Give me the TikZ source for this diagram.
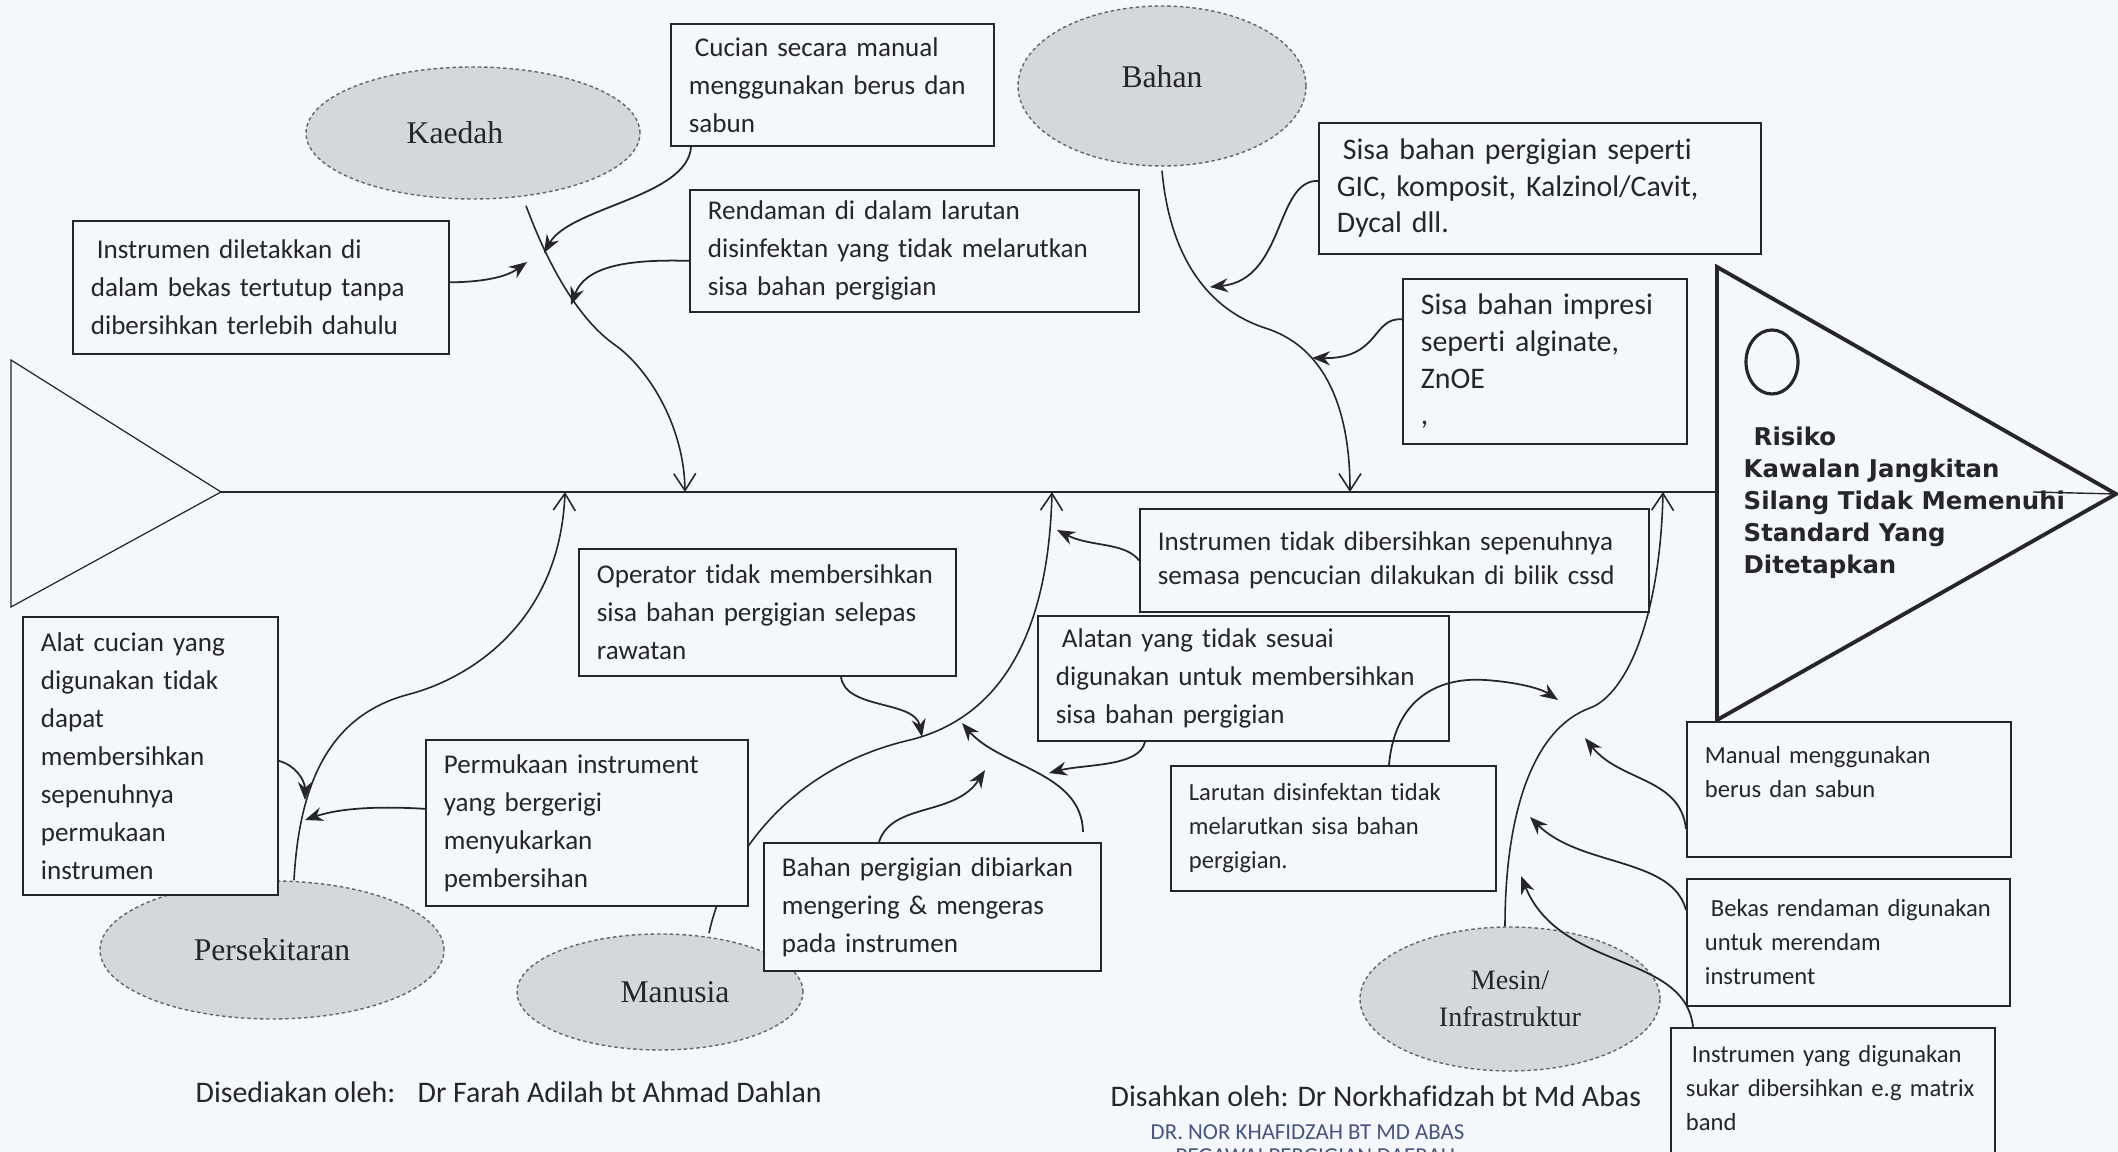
\documentclass[tikz,border=0pt]{standalone}
\usepackage{fontspec}
\setmainfont{Carlito}[Ligatures=NoCommon]
\newfontfamily\catfont{Liberation Serif}
\newfontfamily\effectfont{DejaVu Sans}
\usepackage{tikz}
\usetikzlibrary{arrows.meta,shapes.geometric,positioning}
\usepackage{xcolor}
\definecolor{fbpaper}{RGB}{244,247,251}
\definecolor{fbink}{RGB}{38,38,42}
\definecolor{fbgray}{RGB}{212,215,220}
\definecolor{fbstamp}{RGB}{72,84,128}
\tikzstyle{cause} = [rectangle, anchor=north west, draw=fbink, fill=fbpaper, line width=0.5pt, align=left, inner xsep=0.18cm, inner ysep=0pt, text=fbink, font=\fontsize{7.7}{10.8}\selectfont]
\tikzstyle{causesmall} = [cause, font=\fontsize{7}{9.7}\selectfont]
\tikzstyle{causelarge} = [cause, font=\fontsize{8.5}{10.4}\selectfont]
\tikzstyle{category} = [ellipse, draw=black!60, dash pattern=on 1pt off 0.8pt, line width=0.4pt, fill=fbgray, inner sep=0pt, align=center, text=fbink, font=\catfont\fontsize{9}{10.5}\selectfont]
\tikzstyle{bone} = [line width=0.45pt, color=fbink, -{Straight Barb[length=1.7mm,width=2.2mm]}]
\tikzstyle{feed} = [line width=0.5pt, color=fbink, -{Stealth[length=1.8mm,width=1.4mm]}]

\begin{document}
\begin{tikzpicture}
\useasboundingbox (0,0) rectangle (21.18,11.52);
\fill[fbpaper] (0,0) rectangle (21.18,11.52);

% Categories
\node (kaedah) [category, minimum width=3.34cm, minimum height=1.32cm] at (4.73,10.19) {\hspace*{-0.36cm}Kaedah};
\node (bahan) [category, minimum width=2.88cm, minimum height=1.60cm] at (11.62,10.66) {\raisebox{0.18cm}{Bahan}};
\node (persekitaran) [category, minimum width=3.44cm, minimum height=1.38cm] at (2.72,2.02) {Persekitaran};
\node (manusia) [category, minimum width=2.86cm, minimum height=1.16cm] at (6.60,1.60) {\hspace*{0.3cm}Manusia};
\node (mesin) [category, minimum width=3.00cm, minimum height=1.44cm, font=\catfont\fontsize{8}{10.5}\selectfont] at (15.10,1.53) {Mesin/\\Infrastruktur};

% Fish body
\coordinate (tailtop) at (0.11,7.92);
\coordinate (tailbot) at (0.11,5.45);
\coordinate (spinestart) at (2.21,6.60);
\coordinate (spineend) at (17.17,6.60);
\coordinate (headtop) at (17.17,8.85);
\coordinate (headbot) at (17.17,4.32);
\coordinate (headtip) at (21.16,6.58);
\coordinate (spinetip) at (20.33,6.60);
\draw[line width=0.35pt, color=fbink] (tailtop) -- (spinestart) -- (tailbot) -- cycle;
\draw[line width=0.6pt, color=fbink] (spinestart) -- (spineend);
\draw[line width=1.1pt, color=fbink] (headtop) -- (headtip) -- (headbot) -- cycle;
\draw[line width=0.4pt, color=fbink] (spinetip) -- (headtip);
\node (target) [draw=fbink, ellipse, line width=0.9pt, minimum width=0.52cm, minimum height=0.64cm, inner sep=0pt] at (17.72,7.90) {};
\node (effect) [anchor=north west, align=left, inner sep=0pt, text=fbink, font=\effectfont\bfseries\fontsize{6.95}{9.1}\selectfont] at (17.43,7.26) {\hspace*{0.1cm}Risiko\\Kawalan Jangkitan\\Silang Tidak Memenuhi\\Standard Yang\\Ditetapkan};

% Bones
\coordinate (kaedahtip) at (6.85,6.60);
\coordinate (bahantip) at (13.50,6.60);
\coordinate (persekitarantip) at (5.65,6.60);
\coordinate (manusiatip) at (10.52,6.60);
\coordinate (mesintip) at (16.63,6.60);
\draw[bone] ([xshift=0.53cm,yshift=-0.06cm]kaedah.south) .. controls (5.45,8.95) and (5.75,8.35) .. (6.15,8.07) .. controls (6.45,7.86) and (6.84,7.30) .. (kaedahtip);
\draw[bone] ([yshift=-0.04cm]bahan.south) .. controls (11.70,8.92) and (12.10,8.42) .. (12.65,8.24) .. controls (13.20,8.07) and (13.50,7.52) .. (bahantip);
\draw[bone] ([xshift=0.22cm]persekitaran.north) .. controls (3.00,3.85) and (3.40,4.40) .. (4.10,4.58) .. controls (4.70,4.74) and (5.60,5.30) .. (persekitarantip);
\draw[bone] ([xshift=0.49cm]manusia.north) .. controls (7.22,2.82) and (7.80,3.82) .. (9.10,4.12) .. controls (9.90,4.32) and (10.48,5.02) .. (manusiatip);
\draw[bone] ([xshift=-0.05cm]mesin.north) .. controls (15.05,3.32) and (15.30,4.22) .. (15.90,4.44) .. controls (16.25,4.57) and (16.60,5.30) .. (mesintip);

% Causes
\node (cucian) [cause, text width=2.87cm, minimum height=1.22cm] at (6.70,11.29) {\hspace*{0.06cm}Cucian secara manual\\menggunakan berus dan\\sabun};
\node (diletakkan) [cause, text width=3.40cm, minimum height=1.33cm] at (0.72,9.32) {\hspace*{0.06cm}Instrumen diletakkan di\\dalam bekas tertutup tanpa\\dibersihkan terlebih dahulu};
\node (rendaman) [cause, text width=4.13cm, minimum height=1.22cm] at (6.89,9.63) {Rendaman di dalam larutan\\disinfektan yang tidak melarutkan\\sisa bahan pergigian};
\node (sisapergigian) [causelarge, text width=4.06cm, minimum height=1.31cm] at (13.18,10.30) {\hspace*{0.06cm}Sisa bahan pergigian seperti\\GIC, komposit, Kalzinol/Cavit,\\Dycal dll.};
\node (impresi) [causelarge, text width=2.48cm, minimum height=1.65cm] at (14.02,8.74) {Sisa bahan impresi\\seperti alginate,\\ZnOE\\,};
\node (tidakbersih) [cause, text width=4.73cm, minimum height=1.03cm, font=\fontsize{7.7}{9.7}\selectfont] at (11.39,6.44) {Instrumen tidak dibersihkan sepenuhnya\\semasa pencucian dilakukan di bilik cssd};
\node (operator) [cause, text width=3.41cm, minimum height=1.27cm] at (5.78,6.04) {Operator tidak membersihkan\\sisa bahan pergigian selepas\\rawatan};
\node (alatan) [cause, text width=3.75cm, minimum height=1.25cm] at (10.37,5.37) {\hspace*{0.06cm}Alatan yang tidak sesuai\\digunakan untuk membersihkan\\sisa bahan pergigian};
\node (alatcucian) [cause, text width=2.19cm, minimum height=2.78cm] at (0.22,5.36) {Alat cucian yang\\digunakan tidak\\dapat\\membersihkan\\sepenuhnya\\permukaan\\instrumen};
\node (permukaan) [cause, text width=2.86cm, minimum height=1.66cm] at (4.25,4.13) {Permukaan instrument\\yang bergerigi\\menyukarkan\\pembersihan};
\node (bahankering) [cause, text width=3.01cm, minimum height=1.28cm] at (7.63,3.10) {Bahan pergigian dibiarkan\\mengering \& mengeras\\pada instrumen};
\node (larutan) [causesmall, text width=2.89cm, minimum height=1.25cm] at (11.70,3.87) {Larutan disinfektan tidak\\melarutkan sisa bahan\\pergigian.};
\node (manual) [causesmall, text width=2.88cm, minimum height=1.35cm] at (16.86,4.31) {Manual menggunakan\\berus dan sabun\\\mbox{}};
\node (bekas) [causesmall, text width=2.87cm, minimum height=1.27cm] at (16.86,2.74) {\hspace*{0.06cm}Bekas rendaman digunakan\\untuk merendam\\instrument};
\node (sukar) [causesmall, inner xsep=0.15cm, text width=2.94cm, minimum height=1.55cm] at (16.70,1.25) {\hspace*{0.06cm}Instrumen yang digunakan\\\mbox{sukar dibersihkan e.g matrix}\\band\\\mbox{}};

% Kaedah causes
\coordinate (kaedahA) at (5.44,8.99);
\coordinate (kaedahB) at (5.27,8.90);
\coordinate (kaedahC) at (5.71,8.47);
\draw[feed] ([xshift=0.21cm]cucian.south west) .. controls (6.88,9.55) and (5.70,9.45) .. (kaedahA);
\draw[feed] ([yshift=0.05cm]diletakkan.east) .. controls (4.80,8.70) and (5.05,8.74) .. (kaedahB);
\draw[feed] ([yshift=-0.10cm]rendaman.west) .. controls (6.25,8.93) and (5.85,8.85) .. (kaedahC);

% Bahan causes
\coordinate (bahanA) at (12.10,8.65);
\coordinate (bahanB) at (13.12,7.94);
\draw[feed] ([yshift=0.075cm]sisapergigian.west) .. controls (12.75,9.72) and (12.85,8.72) .. (bahanA);
\draw[feed] ([yshift=0.42cm]impresi.west) .. controls (13.72,8.35) and (13.80,7.93) .. (bahanB);

% Persekitaran causes
\coordinate (persekitaranA) at (3.05,3.52);
\coordinate (persekitaranB) at (3.05,3.32);
\draw[feed] ([yshift=-0.05cm]alatcucian.east) .. controls (2.95,3.87) and (3.05,3.72) .. (persekitaranA);
\draw[feed] ([yshift=0.14cm]permukaan.west) .. controls (3.80,3.46) and (3.40,3.44) .. (persekitaranB);

% Manusia causes
\coordinate (manusiaA) at (10.57,6.22);
\coordinate (manusiaB) at (9.22,4.15);
\coordinate (manusiaC) at (9.85,3.82);
\coordinate (manusiaD) at (9.62,4.29);
\coordinate (manusiaE) at (10.49,3.79);
\draw[feed] (tidakbersih.west) .. controls (11.25,6.10) and (10.90,6.05) .. (manusiaA);
\draw[feed] ([xshift=2.63cm]operator.south west) .. controls (8.45,4.42) and (9.15,4.52) .. (manusiaB);
\draw[feed] ([xshift=1.16cm]bahankering.north west) .. controls (8.92,3.50) and (9.55,3.35) .. (manusiaC);
\draw[feed] ([xshift=3.20cm,yshift=0.10cm]bahankering.north west) .. controls (10.82,3.80) and (10.00,3.85) .. (manusiaD);
\draw[feed] ([xshift=1.08cm]alatan.south west) .. controls (11.40,3.85) and (10.85,3.88) .. (manusiaE);

% Mesin causes
\coordinate (mesinA) at (15.58,4.52);
\coordinate (mesinB) at (15.85,4.14);
\coordinate (mesinC) at (15.30,3.35);
\coordinate (mesinD) at (15.21,2.76);
\draw[feed] ([xshift=2.19cm]larutan.north west) .. controls (13.95,4.55) and (14.40,4.75) .. (14.85,4.72) .. controls (15.15,4.70) and (15.40,4.64) .. (mesinA);
\draw[feed] ([yshift=0.29cm]manual.south west) .. controls (16.80,3.75) and (16.20,3.70) .. (mesinB);
\draw[feed] ([yshift=-0.32cm]bekas.north west) .. controls (16.72,2.95) and (15.80,2.85) .. (mesinC);
\draw[feed] ([xshift=0.23cm]sukar.north west) .. controls (16.85,2.00) and (15.60,1.80) .. (mesinD);

% Signatures
\node (disediakan) [anchor=base west, inner sep=0pt, text=fbink, font=\fontsize{8.5}{10}\selectfont] at (1.95,0.49) {Disediakan oleh:\hspace{0.75em}Dr Farah Adilah bt Ahmad Dahlan};
\node (disahkan) [anchor=base west, inner sep=0pt, text=fbink, font=\fontsize{8.5}{10}\selectfont] at (11.10,0.45) {Disahkan oleh: Dr Norkhafidzah bt Md Abas};
\node (cop) [anchor=base west, inner sep=0pt, text=fbstamp, font=\fontsize{6.5}{8}\selectfont] at (11.50,0.12) {DR. NOR KHAFIDZAH BT MD ABAS};
\node (jawatan) [anchor=base west, inner sep=0pt, text=fbstamp, font=\fontsize{6.5}{8}\selectfont] at (11.75,-0.12) {PEGAWAI PERGIGIAN DAERAH};
\end{tikzpicture}
\end{document}
